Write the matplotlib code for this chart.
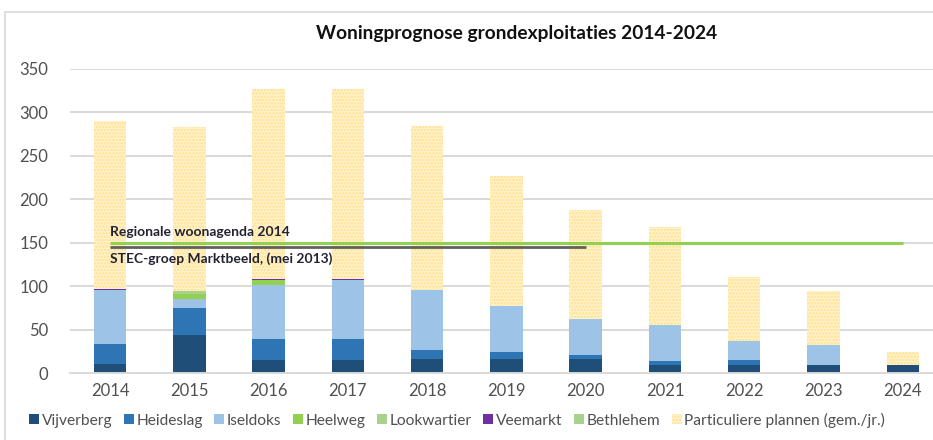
import matplotlib
matplotlib.use("Agg")
import matplotlib.pyplot as plt
from matplotlib.patches import Rectangle
import numpy as np

plt.rcParams['font.family'] = ['Lato', 'DejaVu Sans']
plt.rcParams['hatch.linewidth'] = 1.2

years = ['2014', '2015', '2016', '2017', '2018', '2019', '2020', '2021', '2022', '2023', '2024']
vijverberg = [11, 44, 15, 15, 16, 16, 16, 9, 9, 9, 9]
heideslag = [23, 31, 25, 25, 11, 8, 5, 5, 6, 0, 0]
iseldoks = [62, 10, 62, 67, 69, 53, 42, 42, 22, 23, 0]
heelweg = [0, 6, 5, 0, 0, 0, 0, 0, 0, 0, 0]
lookwartier = [0, 4, 0, 0, 0, 0, 0, 0, 0, 0, 0]
veemarkt = [1, 0, 1, 1, 0, 0, 0, 0, 0, 0, 0]
bethlehem = [0, 0, 1, 0, 0, 0, 0, 0, 0, 0, 0]
particulier = [193, 188, 218, 219, 189, 150, 125, 112, 74, 63, 15]

series_names = ['Vijverberg', 'Heideslag', 'Iseldoks', 'Heelweg', 'Lookwartier',
                'Veemarkt', 'Bethlehem', 'Particuliere plannen (gem./jr.)']
series_values = [vijverberg, heideslag, iseldoks, heelweg, lookwartier,
                 veemarkt, bethlehem, particulier]
series_colors = ['#1F4E79', '#2E75B6', '#9DC3E6', '#92D050', '#A9D18E',
                 '#7030A0', '#A9D18E', '#FFF2CC']

regionale_value = 150
regionale_years = years[:]          # 2014-2024
stec_value = 145
stec_years = years[:7]              # 2014-2020
regionale_label = 'Regionale woonagenda 2014'
stec_label = 'STEC-groep Marktbeeld, (mei 2013)'
title = 'Woningprognose grondexploitaties 2014-2024'

W, H = 933, 440
fig = plt.figure(figsize=(W / 100, H / 100), dpi=100)
ax = fig.add_axes([70.4 / W, 66.7 / H, 872 / W, 304.3 / H])

x = np.arange(len(years))
bottom = np.zeros(len(years))
handles = []
for name, vals, col in zip(series_names, series_values, series_colors):
    vals = np.array(vals, dtype=float)
    if name.startswith('Particuliere'):
        b = ax.bar(x, vals, 0.41, bottom=bottom, color=col, edgecolor='#FFE08A',
                   linewidth=0, hatch='.....', label=name, zorder=2)
    else:
        b = ax.bar(x, vals, 0.41, bottom=bottom, color=col, linewidth=0,
                   label=name, zorder=2)
    handles.append(b)
    bottom += vals

xr = [years.index(y) for y in regionale_years]
xs = [years.index(y) for y in stec_years]
ax.plot(xr, [regionale_value] * len(xr), color='#92D050', lw=2.2, zorder=4,
        solid_capstyle='butt')
ax.plot(xs, [stec_value] * len(xs), color='#606060', lw=2.0, zorder=4,
        solid_capstyle='butt')

ax.text(0, 162.5, regionale_label, fontsize=10, fontweight='bold',
        color='#222233', va='center', ha='left', zorder=5)
ax.text(0, 131.5, stec_label, fontsize=10, fontweight='bold',
        color='#222233', va='center', ha='left', zorder=5)

ax.set_xlim(-0.5, len(years) - 0.5)
ax.set_ylim(0, 350)
ax.set_yticks(range(0, 351, 50))
ax.set_xticks(x)
ax.set_xticklabels(years)
ax.yaxis.grid(True, color='#D9D9D9', lw=1.4, zorder=0)
ax.set_axisbelow(True)
for s in ['top', 'right', 'left']:
    ax.spines[s].set_visible(False)
ax.spines['bottom'].set_color('#D9D9D9')
ax.spines['bottom'].set_linewidth(1.4)
ax.tick_params(axis='both', length=0, labelsize=12, colors='#505050')
ax.tick_params(axis='x', pad=7)
ax.tick_params(axis='y', pad=16)

fig.text(517 / W, 1 - 33 / H, title, fontsize=13.8, fontweight='bold',
         ha='center', va='center', color='#111111')

leg = fig.legend(handles=handles, labels=series_names, loc='center',
                 bbox_to_anchor=(457 / W, 1 - 420 / H), ncol=8, frameon=False,
                 fontsize=11.2, handlelength=0.65, handleheight=0.65,
                 handletextpad=0.15, columnspacing=0.75, borderaxespad=0)
for t in leg.get_texts():
    t.set_color('#505050')

# chart border
fig.patches.append(Rectangle((5 / W, -0.01), 1.0, 1 - 12 / H + 0.01,
                             transform=fig.transFigure, fill=False,
                             edgecolor='#D9D9D9', lw=1.2))

fig.savefig('out.png', dpi=100)
